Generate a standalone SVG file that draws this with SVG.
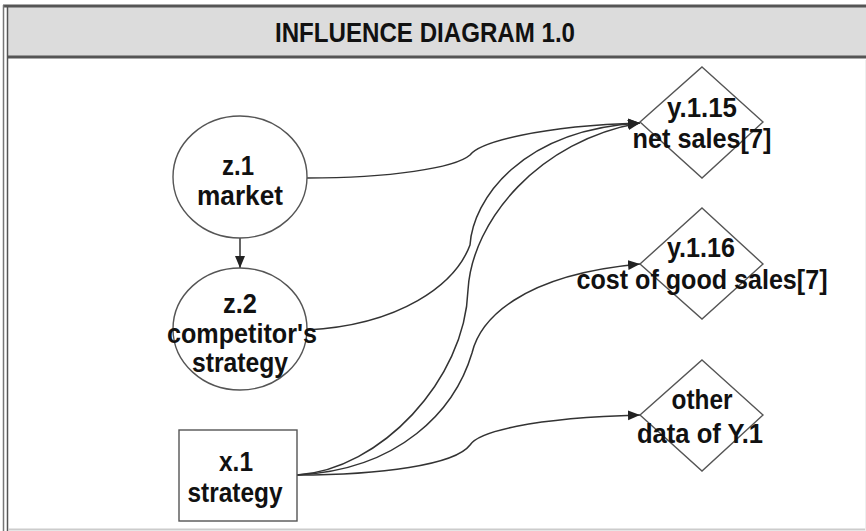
<svg xmlns="http://www.w3.org/2000/svg" width="866" height="531" viewBox="0 0 866 531">
  <style>
    .shape { fill: #ffffff; stroke: #555555; stroke-width: 1.4; }
    .lbl { font-family: "Liberation Sans", Arial, sans-serif; font-weight: bold; font-size: 27px; fill: #111111; text-anchor: middle; }
    .title { font-family: "Liberation Sans", Arial, sans-serif; font-weight: bold; font-size: 28px; fill: #111111; text-anchor: middle; }
    .edge { fill: none; stroke: #333333; stroke-width: 1.5; }
  </style>
  <defs>
    <marker id="arrow" markerUnits="userSpaceOnUse" markerWidth="14" markerHeight="12" refX="12" refY="5" orient="auto">
      <path d="M0,0 L12,5 L0,10 Z" fill="#222222"/>
    </marker>
  </defs>

  <!-- page frame -->
  <rect x="0" y="0" width="866" height="531" fill="#ffffff"/>
  <g id="frame">
    <rect x="8" y="7" width="858" height="50" fill="#dcdcdc"/>
    <line x1="3" y1="6" x2="866" y2="6" stroke="#555555" stroke-width="3"/>
    <line x1="8" y1="57" x2="866" y2="57" stroke="#555555" stroke-width="3"/>
    <line x1="3.5" y1="5" x2="3.5" y2="531" stroke="#777777" stroke-width="1.5"/>
    <line x1="7.5" y1="5" x2="7.5" y2="531" stroke="#555555" stroke-width="1.5"/>
    <line x1="8" y1="529.5" x2="866" y2="529.5" stroke="#cccccc" stroke-width="2"/>
    <line x1="865.5" y1="60" x2="865.5" y2="531" stroke="#eeeeee" stroke-width="1"/>
    <text class="title" x="425" y="42" textLength="300" lengthAdjust="spacingAndGlyphs">INFLUENCE DIAGRAM 1.0</text>
  </g>

  <!-- connectors -->
  <g id="connectors">
    <line class="edge" x1="240" y1="238" x2="240" y2="268" marker-end="url(#arrow)"/>
    <path class="edge" d="M307,178 C390,178 455,168 470,155 C480,142 540,126 640,123" marker-end="url(#arrow)"/>
    <path class="edge" d="M307,330 C400,325 455,285 470,245 C473,200 520,130 640,123" marker-end="url(#arrow)"/>
    <path class="edge" d="M297,475 C380,470 465,380 468,290 C472,220 540,140 640,123" marker-end="url(#arrow)"/>
    <path class="edge" d="M297,475 C400,470 455,410 472,353 C480,320 520,275 640,264" marker-end="url(#arrow)"/>
    <path class="edge" d="M297,475 C380,475 455,465 470,445 C478,432 530,418 640,415" marker-end="url(#arrow)"/>
  </g>

  <!-- chance nodes -->
  <g id="z1">
    <ellipse class="shape" cx="240" cy="177" rx="67" ry="61"/>
    <text class="lbl" x="238" y="175" textLength="32" lengthAdjust="spacingAndGlyphs">z.1</text>
    <text class="lbl" x="240" y="205" textLength="86" lengthAdjust="spacingAndGlyphs">market</text>
  </g>
  <g id="z2">
    <ellipse class="shape" cx="240" cy="329" rx="67" ry="61"/>
    <text class="lbl" x="240" y="313" textLength="34" lengthAdjust="spacingAndGlyphs">z.2</text>
    <text class="lbl" x="242" y="343" textLength="150" lengthAdjust="spacingAndGlyphs">competitor's</text>
    <text class="lbl" x="240" y="372" textLength="96" lengthAdjust="spacingAndGlyphs">strategy</text>
  </g>

  <!-- decision node -->
  <g id="x1">
    <rect class="shape" x="179" y="430" width="118" height="91"/>
    <text class="lbl" x="236" y="471" textLength="34" lengthAdjust="spacingAndGlyphs">x.1</text>
    <text class="lbl" x="235" y="502" textLength="95" lengthAdjust="spacingAndGlyphs">strategy</text>
  </g>

  <!-- value nodes -->
  <g id="y115">
    <polygon class="shape" points="702,67 763,122 702,178 640,122"/>
    <text class="lbl" x="702" y="117" textLength="70" lengthAdjust="spacingAndGlyphs">y.1.15</text>
    <text class="lbl" x="702" y="148" textLength="139" lengthAdjust="spacingAndGlyphs">net sales[7]</text>
  </g>
  <g id="y116">
    <polygon class="shape" points="702,208 763,264 702,319 640,264"/>
    <text class="lbl" x="701" y="257" textLength="68" lengthAdjust="spacingAndGlyphs">y.1.16</text>
    <text class="lbl" x="702" y="289" textLength="251" lengthAdjust="spacingAndGlyphs">cost of good sales[7]</text>
  </g>
  <g id="other">
    <polygon class="shape" points="702,360 763,415 702,471 640,415"/>
    <text class="lbl" x="702" y="409" textLength="61" lengthAdjust="spacingAndGlyphs">other</text>
    <text class="lbl" x="700" y="443" textLength="126" lengthAdjust="spacingAndGlyphs">data of Y.1</text>
  </g>
</svg>
